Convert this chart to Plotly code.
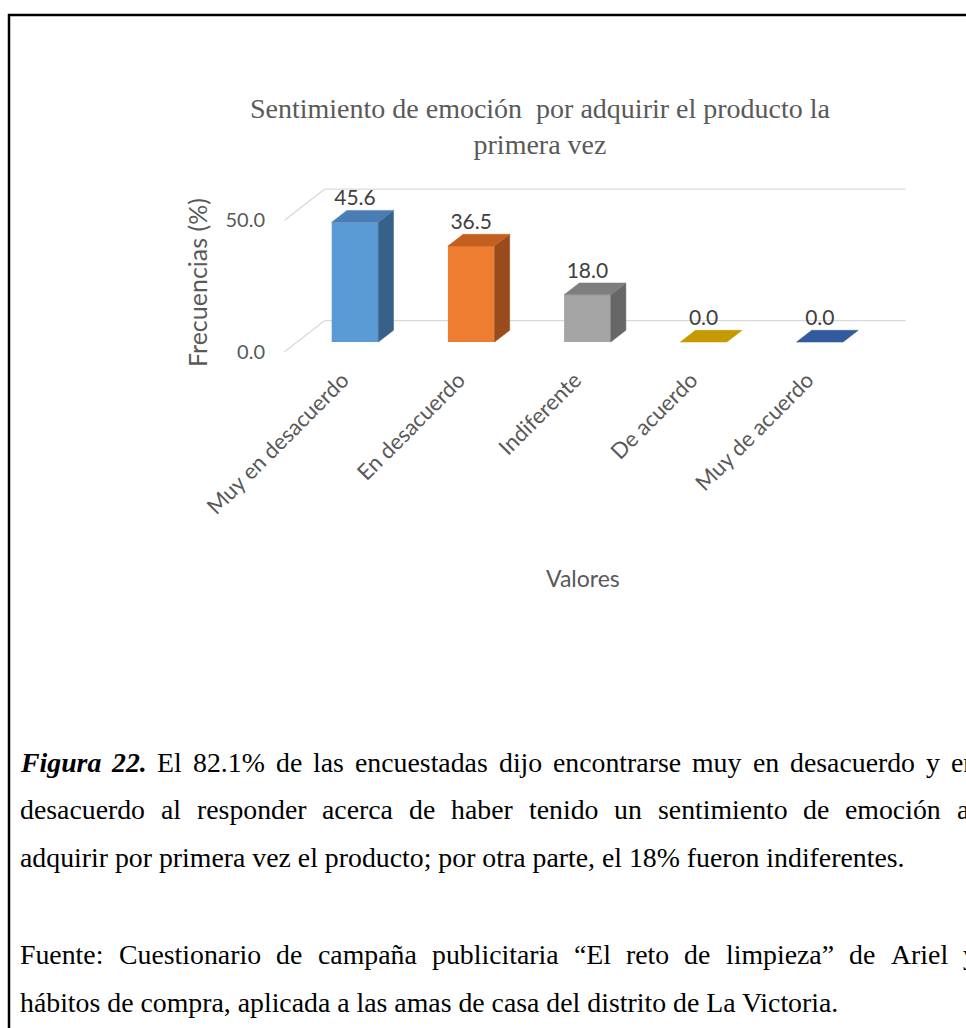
import plotly.graph_objects as go

# ---- data -------------------------------------------------------------
categories = ["Muy en desacuerdo", "En desacuerdo", "Indiferente", "De acuerdo", "Muy de acuerdo"]
frecuencias = [45.6, 36.5, 18.0, 0.0, 0.0]
y_ticks = [0, 50]
y_tick_labels = ["0.0", "50.0"]

chart_title = "Sentimiento de emoción\u00a0 por adquirir el producto la<br>primera vez"
y_title = "Frecuencias (%)"
x_title = "Valores"

caption_lines = [
    "Figura 22. El 82.1% de las encuestadas dijo encontrarse muy en desacuerdo y en",
    "desacuerdo al responder acerca de haber tenido un sentimiento de emoción al",
    "adquirir por primera vez el producto; por otra parte, el 18% fueron indiferentes.",
    "Fuente: Cuestionario de campaña publicitaria “El reto de limpieza” de Ariel y",
    "hábitos de compra, aplicada a las amas de casa del distrito de La Victoria.",
]
caption_justified = [True, True, False, True, False]
caption_bold_italic = ["Figura", "22."]

# ---- styles -----------------------------------------------------------
front_colors = ["#5B9BD5", "#ED7D31", "#A5A5A5", "#FFC000", "#4472C4"]
top_colors = ["#4A7DB3", "#C4601F", "#7E7E7E", "#C49A00", "#335A9C"]
side_colors = ["#386189", "#984B1B", "#676767", "#9C7A00", "#28467A"]
GRID = "#D9D9D9"
TXT = "#595959"
SANS = "Lato"
SERIF = "Liberation Serif"

W, H = 966, 1028
PX_L, PX_R, PX_T, PX_B = 266, 930, 165, 362          # plot area (px)
X0_PX, X_SCALE = 342.6, 116.2                        # px of x=0, px per category
Y0_PX, Y_SCALE = 351.7, 2.63                         # px of y=0, px per percent

x_range = [(PX_L - X0_PX) / X_SCALE, (PX_R - X0_PX) / X_SCALE]
y_range = [(Y0_PX - PX_B) / Y_SCALE, (Y0_PX - PX_T) / Y_SCALE]

# oblique depth of the 3-D floor expressed in axis units
DX, DY = 40 / X_SCALE, 31 / Y_SCALE
F0, F1 = 0.31, 0.69          # front / back of the bars as a fraction of depth
BAR_W = 46.6 / X_SCALE
n = len(categories)


def px_x(px):
    return px / W


def px_y(py):
    return (H - py) / H


fig = go.Figure()

# front faces of the columns
xc = [i + F0 * DX for i in range(n)]
fig.add_trace(go.Bar(
    x=xc, y=frecuencias, base=F0 * DY, width=BAR_W,
    marker=dict(color=front_colors, line=dict(width=0)),
    hoverinfo="skip",
))

# top and side faces
ddx, ddy = (F1 - F0) * DX, (F1 - F0) * DY
for i, v in enumerate(frecuencias):
    b = F0 * DY
    t = b + v
    l, r = xc[i] - BAR_W / 2, xc[i] + BAR_W / 2
    if v > 0:
        fig.add_trace(go.Scatter(
            x=[r, r + ddx, r + ddx, r, r], y=[b, b + ddy, t + ddy, t, b],
            mode="lines", fill="toself", fillcolor=side_colors[i],
            line=dict(width=0.5, color=side_colors[i]), hoverinfo="skip"))
    fig.add_trace(go.Scatter(
        x=[l, r, r + ddx, l + ddx, l], y=[t, t, t + ddy, t + ddy, t],
        mode="lines", fill="toself", fillcolor=top_colors[i],
        line=dict(width=0.5, color=top_colors[i]), hoverinfo="skip"))

# value labels
fig.add_trace(go.Scatter(
    x=xc, y=[v + F1 * DY for v in frecuencias],
    mode="text", text=[f"{v:.1f}" for v in frecuencias],
    textposition="top center", cliponaxis=False,
    textfont=dict(family=SANS, size=21, color="#404040"), hoverinfo="skip"))

# gridlines on the back wall and the side wall
shapes = []
for v in y_ticks:
    shapes.append(dict(type="line", xref="x", yref="y", layer="below",
                       x0=-0.5 + DX, y0=v + DY, x1=n - 0.5 + DX, y1=v + DY,
                       line=dict(color=GRID, width=1.3)))
    shapes.append(dict(type="line", xref="x", yref="y", layer="below",
                       x0=-0.5, y0=v, x1=-0.5 + DX, y1=v + DY,
                       line=dict(color=GRID, width=1.3)))

# frame around the figure block
shapes.append(dict(type="rect", xref="paper", yref="paper",
                   x0=px_x(9), y0=px_y(15), x1=1.2, y1=-0.2,
                   line=dict(color="black", width=2.5), fillcolor="rgba(0,0,0,0)"))

annotations = [
    dict(text=y_title, x=px_x(197), y=px_y(283), xref="paper", yref="paper",
         xanchor="center", yanchor="middle",
         textangle=-90, showarrow=False, font=dict(family=SANS, size=25, color=TXT)),
    dict(text=x_title, x=px_x(583), y=px_y(578), xref="paper", yref="paper",
         xanchor="center", yanchor="middle",
         showarrow=False, font=dict(family=SANS, size=23, color=TXT)),
]

# ---- caption (justified Times text) ------------------------------------
CAP_SIZE = 27.8
CAP_LEFT, CAP_RIGHT = 19, 976
baselines = [772.7, 820.5, 868, 965, 1013]

TNR = {" ": 250, "a": 444, "b": 500, "c": 444, "d": 500, "e": 444, "f": 333, "g": 500,
       "h": 500, "i": 278, "j": 278, "k": 500, "l": 278, "m": 778, "n": 500, "o": 500,
       "p": 500, "q": 500, "r": 333, "s": 389, "t": 278, "u": 500, "v": 500, "w": 722,
       "x": 500, "y": 500, "z": 444, "A": 722, "C": 667, "E": 611, "F": 556, "L": 611,
       "V": 722, ".": 250, ",": 250, ";": 278, ":": 278, "%": 833, "“": 444, "”": 444,
       "á": 444, "é": 444, "í": 278, "ó": 500, "ú": 500, "ñ": 500}
TNR_BI = {"F": 667, "i": 278, "g": 500, "u": 556, "r": 389, "a": 500, ".": 250}


def word_width(word, bold_italic):
    table = TNR_BI if bold_italic else TNR
    return sum(table.get(ch, TNR.get(ch, 500)) for ch in word) / 1000 * CAP_SIZE


def cap_font():
    return dict(family=SERIF, size=CAP_SIZE, color="black")


for k, line in enumerate(caption_lines):
    yc = px_y(baselines[k] - 0.38 * CAP_SIZE)
    words = line.split(" ")
    if not caption_justified[k]:
        annotations.append(dict(text=line, x=px_x(CAP_LEFT), y=yc, xref="paper", yref="paper",
                                xanchor="left", yanchor="middle", showarrow=False,
                                borderpad=0, font=cap_font()))
        continue
    bi = [(k == 0 and w in caption_bold_italic) for w in words]
    widths = [word_width(w, b) for w, b in zip(words, bi)]
    gap = (CAP_RIGHT - CAP_LEFT - sum(widths)) / (len(words) - 1)
    x = CAP_LEFT
    for w, b, ww in zip(words, bi, widths):
        txt = f"<b><i>{w}</i></b>" if b else w
        annotations.append(dict(text=txt, x=px_x(x), y=yc, xref="paper", yref="paper",
                                xanchor="left", yanchor="middle", showarrow=False,
                                borderpad=0, font=cap_font()))
        x += ww + gap

fig.update_layout(
    width=W, height=H,
    margin=dict(l=0, r=0, t=0, b=0, autoexpand=False),
    paper_bgcolor="white", plot_bgcolor="white",
    showlegend=False,
    title=dict(text=chart_title, x=px_x(540), xanchor="center",
               y=px_y(118), yanchor="middle", yref="paper", automargin=False,
               font=dict(family=SERIF, size=28, color=TXT)),
    xaxis=dict(domain=[px_x(PX_L), px_x(PX_R)], range=x_range, automargin=False,
               tickvals=list(range(n)), ticktext=categories, tickangle=-45,
               showgrid=False, zeroline=False, showline=False, ticks="",
               tickfont=dict(family=SANS, size=22, color=TXT)),
    yaxis=dict(domain=[px_y(PX_B), px_y(PX_T)], range=y_range, automargin=False,
               tickvals=y_ticks, ticktext=y_tick_labels,
               showgrid=False, zeroline=False, showline=False, ticks="",
               tickfont=dict(family=SANS, size=20, color=TXT)),
    shapes=shapes,
    annotations=annotations,
)

fig.write_html("out.html")
